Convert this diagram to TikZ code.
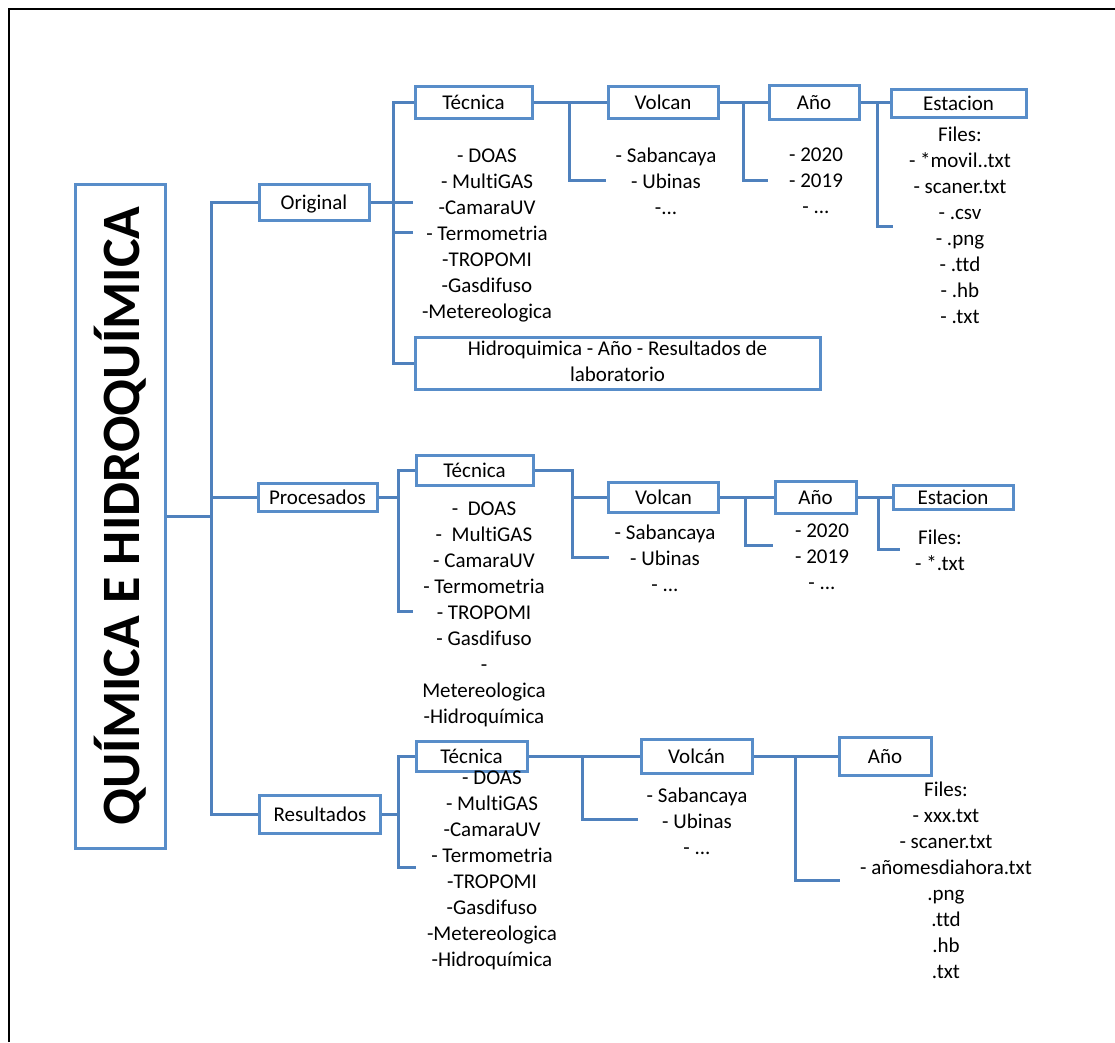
\documentclass[tikz,border=0pt]{standalone}
\usepackage{fontspec}
\setmainfont{Carlito}[Ligatures=NoCommon]
\definecolor{lnblue}{RGB}{79,129,189}
\definecolor{bxblue}{RGB}{88,141,201}
\newcommand{\lst}[1]{\begin{tabular}[t]{@{}c@{}}#1\end{tabular}}
\newcommand{\lstc}[1]{\begin{tabular}{@{}c@{}}#1\end{tabular}}
\tikzset{
  every node/.style={font=\fontsize{21}{26}\selectfont, inner sep=0pt},
  bx/.style={draw=bxblue, line width=3pt, text height=16pt, text depth=2pt, fill=white},
  ln/.style={draw=lnblue, line width=3pt},
  lstn/.style={anchor=base}
}
\begin{document}
\begin{tikzpicture}[x=1pt,y=-1pt]
\useasboundingbox (0,0) rectangle (1115,1042);
% frame
\draw[line width=2.2pt] (9,1042) -- (9,9) -- (1115,9);

% title
\node[draw=bxblue, line width=3pt, rotate=90, minimum width=664, minimum height=90,
      font=\fontsize{54}{62}\selectfont\bfseries] (title) at (120,516) {QUÍMICA E HIDROQUÍMICA};

% level 1
\node[bx, minimum width=110, minimum height=36] (orig) at (314,202) {Original};
\node[bx, minimum width=119, minimum height=28] (proc) at (317.5,497) {Procesados};
\node[bx, minimum width=121, minimum height=38] (res) at (320,814) {Resultados};

% row 1
\node[bx, minimum width=117, minimum height=32] (tec1) at (473.5,102) {Técnica};
\node[bx, minimum width=110, minimum height=32] (vol1) at (663,102) {Volcan};
\node[bx, minimum width=90, minimum height=34] (ano1) at (814,102) {Año};
\node[bx, minimum width=135, minimum height=28] (est1) at (958.5,103) {Estacion};
\node[bx, minimum width=405, minimum height=50, text height=, text depth=] (hid) at (617.5,363)
  {\raisebox{-3pt}{\lstc{Hidroquimica - Año - Resultados de\\laboratorio}}};

\node[lstn] (l1a) at (487,162) {\lst{- DOAS\\- MultiGAS\\-CamaraUV\\- Termometria\\-TROPOMI\\-Gasdifuso\\-Metereologica}};
\node[lstn] (l1b) at (666,162) {\lst{- Sabancaya\\- Ubinas\\-...}};
\node[lstn] (l1c) at (816,161) {\lst{- 2020\\- 2019\\- ...}};
\node[lstn] (l1d) at (960,141) {\lst{Files:\\- *movil..txt\\- scaner.txt\\- .csv\\- .png\\- .ttd\\- .hb\\- .txt}};

% row 2
\node[bx, minimum width=117, minimum height=30] (tec2) at (474.5,470) {Técnica};
\node[bx, minimum width=110, minimum height=30] (vol2) at (663.5,497) {Volcan};
\node[bx, minimum width=81, minimum height=32] (ano2) at (815.5,497) {Año};
\node[bx, minimum width=120, minimum height=24] (est2) at (953,497) {Estacion};

\node[lstn] (l2a) at (484,515) {\lst{-\ \ DOAS\\-\ \ MultiGAS\\- CamaraUV\\- Termometria\\- TROPOMI\\- Gasdifuso\\-\\Metereologica\\-Hidroquímica}};
\node[lstn] (l2b) at (665,539) {\lst{- Sabancaya\\- Ubinas\\- ...}};
\node[lstn] (l2c) at (822,537) {\lst{- 2020\\- 2019\\- ...}};
\node[lstn] (l2d) at (940,544) {\lst{Files:\\- *.txt}};

% row 3
\node[bx, minimum width=111, minimum height=30] (tec3) at (471.5,756) {Técnica};
\node[bx, minimum width=111, minimum height=34] (vol3) at (696.5,756) {Volcán};
\node[bx, minimum width=92, minimum height=38] (ano3) at (885,756) {Año};

\node[lstn] (l3a) at (492,784) {\lst{- DOAS\\- MultiGAS\\-CamaraUV\\- Termometria\\-TROPOMI\\-Gasdifuso\\-Metereologica\\-Hidroquímica}};
\node[lstn] (l3b) at (697,802) {\lst{- Sabancaya\\- Ubinas\\- ...}};
\node[lstn] (l3c) at (946,796) {\lst{Files:\\- xxx.txt\\- scaner.txt\\- añomesdiahora.txt\\.png\\.ttd\\.hb\\.txt}};

% connectors: trunk
\coordinate (tr) at (211,516);
\draw[ln] (title.south) -- (tr);
\draw[ln] (orig.west) -| (tr);
\draw[ln] (proc.west) -| (tr);
\draw[ln] (res.west) -| (tr);

% row 1 connectors
\coordinate (a1) at (393,202);
\coordinate (a1s) at (413,202);
\coordinate (a2s) at (413,232);
\draw[ln] (orig.east) -- (a1s);
\draw[ln] (tec1.west) -| (a1) |- (hid.west);
\draw[ln] (a2s) -- (a2s -| a1);
\coordinate (b1) at (569,180);
\coordinate (b1e) at (606,180);
\draw[ln] (tec1.east) -- (vol1.west);
\draw[ln] (tec1.east) -| (b1) -- (b1e);
\coordinate (c1) at (743,180);
\coordinate (c1e) at (768,180);
\draw[ln] (vol1.east) -- (ano1.west);
\draw[ln] (vol1.east) -| (c1) -- (c1e);
\coordinate (d1) at (877,226);
\coordinate (d1e) at (893,226);
\draw[ln] (ano1.east) -- (ano1.east -| est1.west);
\draw[ln] (ano1.east) -| (d1) -- (d1e);

% row 2 connectors
\coordinate (a3) at (398,611);
\coordinate (a3e) at (413,611);
\draw[ln] (proc.east) -- (proc.east -| a3);
\draw[ln] (tec2.west) -| (a3) -- (a3e);
\coordinate (b2) at (572,557);
\coordinate (b2e) at (609,557);
\draw[ln] (tec2.east) -| (b2) -- (b2e);
\draw[ln] (vol2.west) -- (vol2.west -| b2);
\coordinate (c2) at (745,545);
\coordinate (c2e) at (773,545);
\draw[ln] (vol2.east) -- (ano2.west);
\draw[ln] (vol2.east) -| (c2) -- (c2e);
\coordinate (d2) at (878,549);
\coordinate (d2e) at (900,549);
\draw[ln] (ano2.east) -- (est2.west);
\draw[ln] (ano2.east) -| (d2) -- (d2e);

% row 3 connectors
\coordinate (a4) at (398,867);
\coordinate (a4e) at (416,867);
\draw[ln] (res.east) -- (res.east -| a4);
\draw[ln] (tec3.west) -| (a4) -- (a4e);
\coordinate (b3) at (582,819);
\coordinate (b3e) at (638,819);
\draw[ln] (tec3.east) -- (vol3.west);
\draw[ln] (tec3.east) -| (b3) -- (b3e);
\coordinate (c3) at (795,880);
\coordinate (c3e) at (840,880);
\draw[ln] (vol3.east) -- (ano3.west);
\draw[ln] (vol3.east) -| (c3) -- (c3e);
\end{tikzpicture}
\end{document}
